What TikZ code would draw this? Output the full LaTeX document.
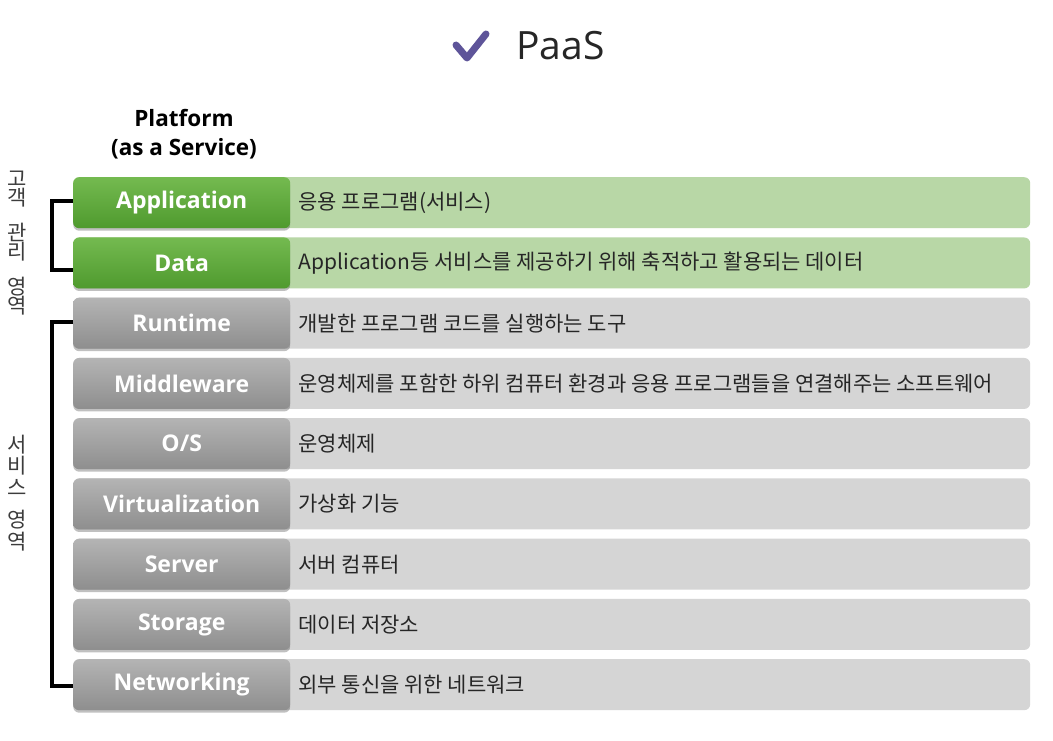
\documentclass[tikz,border=0pt]{standalone}
\usepackage{fontspec}
\newfontfamily\kr[WordSpace=2.1]{Noto Sans CJK KR}
\newfontfamily\krv{Noto Sans CJK KR}
\newfontfamily\lab{Open Sans}
\usetikzlibrary{shadows}
\definecolor{gtop}{HTML}{74BA50}
\definecolor{gbot}{HTML}{4F9A2E}
\definecolor{ggbg}{HTML}{B8D7A6}
\definecolor{ytop}{HTML}{B4B4B4}
\definecolor{ybot}{HTML}{8E8E8E}
\definecolor{yybg}{HTML}{D5D5D5}
\definecolor{txt}{HTML}{262626}
\definecolor{chk}{HTML}{5E5499}
\tikzset{
  bgbox/.style={rectangle, rounded corners=6pt, minimum width=957pt, minimum height=51pt, inner sep=0pt, draw=none},
  greenbg/.style={bgbox, fill=ggbg},
  graybg/.style={bgbox, fill=yybg},
  labbox/.style={rectangle, rounded corners=6pt, minimum width=217pt, minimum height=51pt, inner sep=0pt, draw=none,
    text=white, font=\lab\bfseries\fontsize{23}{26}\selectfont,
    drop shadow={shadow xshift=0pt, shadow yshift=-2.5pt, opacity=0.35, fill=black!70}},
  greenlab/.style={labbox, top color=gtop, bottom color=gbot},
  graylab/.style={labbox, top color=ytop, bottom color=ybot},
  desc/.style={anchor=west, inner sep=0pt, text=txt, font=\kr\fontsize{21}{23}\selectfont},
  bracket/.style={line width=4pt, black},
  vtext/.style={align=center, text=txt!90, font=\krv\fontsize{21}{19.5}\selectfont, inner sep=0pt}
}
\newcommand\layer[5]{%
  \node[#3bg, anchor=north west] (#2bg) at (73,{177+60.25*#1}) {};
  \node[#3lab, anchor=north west] (#2) at (73,{177+60.25*#1}) {#4};
  \node[desc] (#2d) at ([xshift=8pt]#2.east) {#5};
}
\begin{document}
\begin{tikzpicture}[x=1pt,y=-1pt]
\useasboundingbox[fill=white] (0,0) rectangle (1053,741);
% title
\draw[chk, line width=7pt, line cap=round, line join=round] (456,45) -- (467,58) -- (486,34);
\node[anchor=west, inner sep=0pt, text=txt, font=\lab\fontsize{39}{44}\selectfont] (title) at (516,46) {PaaS};
\node[align=center, font=\lab\bfseries\fontsize{22.5}{29}\selectfont, inner sep=0pt] (plat) at (184,134) {Platform\\(as a Service)};
% layers
\layer{0}{app}{green}{Application}{응용 프로그램(서비스)}
\layer{1}{data}{green}{Data}{Application등 서비스를 제공하기 위해 축적하고 활용되는 데이터}
\layer{2}{run}{gray}{Runtime}{개발한 프로그램 코드를 실행하는 도구}
\layer{3}{mid}{gray}{Middleware}{운영체제를 포함한 하위 컴퓨터 환경과 응용 프로그램들을 연결해주는 소프트웨어}
\layer{4}{os}{gray}{O/S}{운영체제}
\layer{5}{virt}{gray}{Virtualization}{가상화 기능}
\layer{6}{srv}{gray}{Server}{서버 컴퓨터}
\layer{7}{stor}{gray}{Storage}{데이터 저장소}
\layer{8}{net}{gray}{Networking}{외부 통신을 위한 네트워크}
% brackets
\draw[bracket] ([yshift=2pt]app.west) -- ++(-21,0) |- ([yshift=-7pt]data.west);
\draw[bracket] ([yshift=1pt]run.west) -- ++(-21,0) |- ([yshift=-1pt]net.west);
% vertical labels
\node[vtext] (cust) at (17,243) {고\\객\\[15pt]관\\리\\[15pt]영\\역};
\node[vtext] (svc) at (17,493) {서\\[2pt]비\\[2pt]스\\[13pt]영\\[2pt]역};
\end{tikzpicture}
\end{document}
